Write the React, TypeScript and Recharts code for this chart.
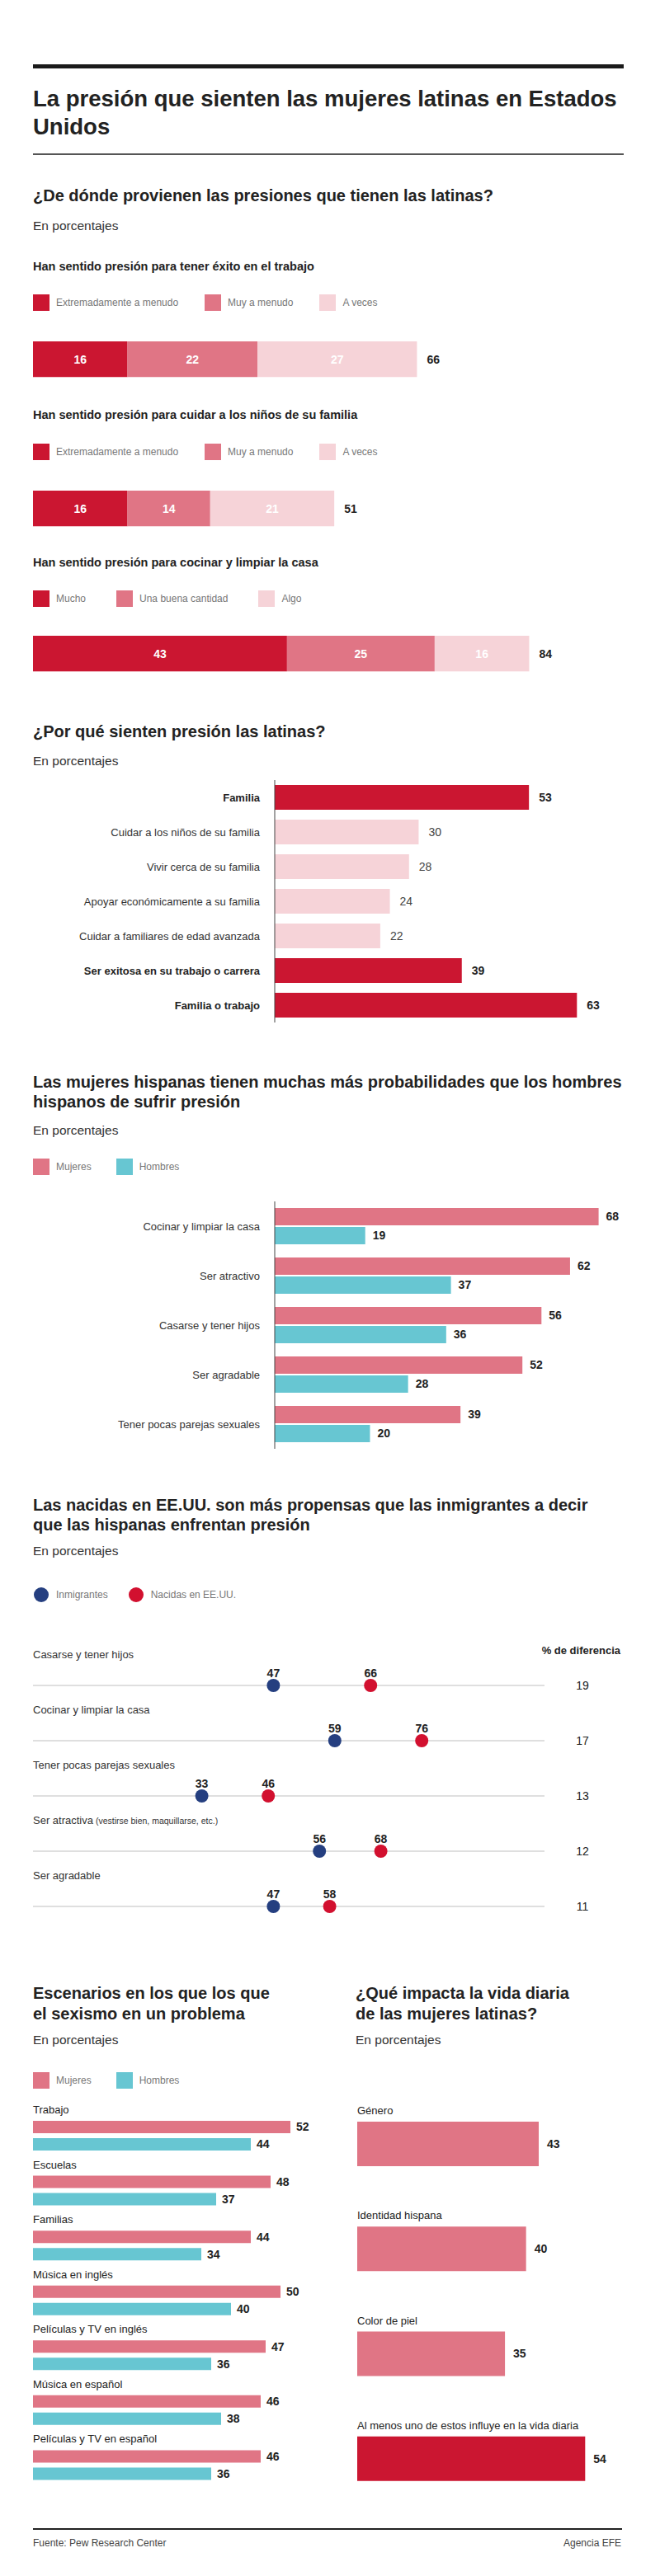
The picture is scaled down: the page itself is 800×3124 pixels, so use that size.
import React from 'react';
import {
  BarChart, Bar, XAxis, YAxis, LabelList, Cell,
  ScatterChart, Scatter, ZAxis, ReferenceLine,
} from 'recharts';

const FONT = '"Liberation Sans", Arial, Helvetica, sans-serif';
const RED = '#cb1631';
const PINK = '#e07585';
const LIGHT = '#f6d3d8';
const TEAL = '#67c6d2';
const NAVY = '#253f80';
const DOT_RED = '#d2102f';
const INK = '#222';

// ¿De dónde provienen las presiones?
const PRESSURE_TITLES = [
  'Han sentido presión para tener éxito en el trabajo',
  'Han sentido presión para cuidar a los niños de su familia',
  'Han sentido presión para cocinar y limpiar la casa',
];
const PRESSURE_LEGENDS = [
  ['Extremadamente a menudo', 'Muy a menudo', 'A veces'],
  ['Extremadamente a menudo', 'Muy a menudo', 'A veces'],
  ['Mucho', 'Una buena cantidad', 'Algo'],
];
const PRESSURE_HIGH = [16, 16, 43];
const PRESSURE_MID = [22, 14, 25];
const PRESSURE_LOW = [27, 21, 16];
const PRESSURE_TOTAL = [66, 51, 84];

// ¿Por qué sienten presión?
const REASONS = [
  'Familia',
  'Cuidar a los niños de su familia',
  'Vivir cerca de su familia',
  'Apoyar económicamente a su familia',
  'Cuidar a familiares de edad avanzada',
  'Ser exitosa en su trabajo o carrera',
  'Familia o trabajo',
];
const REASON_VALUES = [53, 30, 28, 24, 22, 39, 63];
const REASON_MAIN = [true, false, false, false, false, true, true];

// Mujeres vs hombres
const GENDER_ITEMS = [
  'Cocinar y limpiar la casa',
  'Ser atractivo',
  'Casarse y tener hijos',
  'Ser agradable',
  'Tener pocas parejas sexuales',
];
const GENDER_MUJERES = [68, 62, 56, 52, 39];
const GENDER_HOMBRES = [19, 37, 36, 28, 20];

// Nacidas en EE.UU. vs inmigrantes
const ORIGIN_ITEMS = [
  'Casarse y tener hijos',
  'Cocinar y limpiar la casa',
  'Tener pocas parejas sexuales',
  'Ser atractiva',
  'Ser agradable',
];
const ORIGIN_NOTES = ['', '', '', '(vestirse bien, maquillarse, etc.)', ''];
const INMIGRANTES = [47, 59, 33, 56, 47];
const NACIDAS = [66, 76, 46, 68, 58];
const DIFERENCIA = [19, 17, 13, 12, 11];

// Escenarios de sexismo
const SCENES = [
  'Trabajo',
  'Escuelas',
  'Familias',
  'Música en inglés',
  'Películas y TV en inglés',
  'Música en español',
  'Películas y TV en español',
];
const SCENE_MUJERES = [52, 48, 44, 50, 47, 46, 46];
const SCENE_HOMBRES = [44, 37, 34, 40, 36, 38, 36];

// ¿Qué impacta la vida diaria?
const IMPACTS = ['Género', 'Identidad hispana', 'Color de piel', 'Al menos uno de estos influye en la vida diaria'];
const IMPACT_VALUES = [43, 40, 35, 54];
const IMPACT_TOTAL = [false, false, false, true];

const reasonData = REASONS.map((name, i) => ({ name, value: REASON_VALUES[i], main: REASON_MAIN[i] }));
const genderData = GENDER_ITEMS.map((name, i) => ({ name, mujeres: GENDER_MUJERES[i], hombres: GENDER_HOMBRES[i] }));
const sceneData = SCENES.map((name, i) => ({ name, mujeres: SCENE_MUJERES[i], hombres: SCENE_HOMBRES[i] }));
const impactData = IMPACTS.map((name, i) => ({ name, value: IMPACT_VALUES[i], total: IMPACT_TOTAL[i] }));
const inmData = INMIGRANTES.map((x, i) => ({ x, y: i }));
const nacData = NACIDAS.map((x, i) => ({ x, y: i }));

const Txt = ({ x, y, size, bold = false, color = INK, right = false, lh, children }: any) => {
  const h = lh ?? Math.round(size * 1.2);
  return (
    <div
      style={{
        position: 'absolute',
        left: right ? undefined : x,
        right: right ? 800 - x : undefined,
        top: y - h / 2,
        fontSize: size,
        lineHeight: `${h}px`,
        fontWeight: bold ? 700 : 400,
        color,
        whiteSpace: 'nowrap',
      }}
    >
      {children}
    </div>
  );
};

const Rule = ({ y, h, color, x = 40, w = 716 }: any) => (
  <div style={{ position: 'absolute', left: x, top: y, width: w, height: h, background: color }} />
);

const Key = ({ x, y, items, gap, dot = false }: any) => (
  <div style={{ position: 'absolute', left: x, top: y - 10, height: 20, display: 'flex', alignItems: 'center', gap }}>
    {items.map((it: any) => (
      <div key={it.label} style={{ display: 'flex', alignItems: 'center' }}>
        <div style={{ width: dot ? 18 : 20, height: dot ? 18 : 20, borderRadius: dot ? 9 : 0, background: it.color, marginRight: dot ? 9 : 8, marginLeft: dot ? 1 : 0 }} />
        <span style={{ fontSize: 12, color: '#777' }}>{it.label}</span>
      </div>
    ))}
  </div>
);

const PressureRow = ({ i, top }: any) => {
  const data = [{
    name: PRESSURE_TITLES[i],
    alto: PRESSURE_HIGH[i],
    medio: PRESSURE_MID[i],
    bajo: PRESSURE_LOW[i],
    total: PRESSURE_TOTAL[i],
  }];
  const inner = { fill: '#fff', fontSize: 14, fontWeight: 700 };
  return (
    <div style={{ position: 'absolute', left: 0, top: top - 4 }}>
      <BarChart layout="vertical" width={800} height={56} data={data} margin={{ top: 4, right: 44, bottom: 4, left: 40 }} barSize={48}>
        <XAxis type="number" domain={[0, 100]} hide />
        <YAxis type="category" dataKey="name" hide />
        <Bar dataKey="alto" stackId="s" fill={RED} isAnimationActive={false}>
          <LabelList dataKey="alto" position="center" {...inner} />
        </Bar>
        <Bar dataKey="medio" stackId="s" fill={PINK} isAnimationActive={false}>
          <LabelList dataKey="medio" position="center" {...inner} />
        </Bar>
        <Bar dataKey="bajo" stackId="s" fill={LIGHT} isAnimationActive={false}>
          <LabelList dataKey="bajo" position="center" {...inner} />
          <LabelList dataKey="total" position="right" offset={12} fill={INK} fontSize={14} fontWeight={700} />
        </Bar>
      </BarChart>
    </div>
  );
};

const ReasonTick = ({ y, payload }: any) => {
  const idx = REASONS.indexOf(payload.value);
  return (
    <text x={315} y={y} dy="0.35em" textAnchor="end" fontSize={13} fontWeight={REASON_MAIN[idx] ? 700 : 400} fill={REASON_MAIN[idx] ? INK : '#333'}>
      {payload.value}
    </text>
  );
};

const ReasonValue = ({ x, y, width, height, value, index }: any) => {
  const main = REASON_MAIN[index ?? REASON_VALUES.indexOf(value)];
  return (
    <text x={x + width + 12} y={y + height / 2} dy="0.35em" fontSize={14} fontWeight={main ? 700 : 400} fill={main ? INK : '#444'}>
      {value}
    </text>
  );
};

const PlainTick = ({ y, payload }: any) => (
  <text x={315} y={y} dy="0.35em" textAnchor="end" fontSize={13} fill="#333">{payload.value}</text>
);

const GroupName = ({ x, y, value }: any) => (
  <text x={x} y={y - 9} fontSize={13} fill={INK}>{value}</text>
);

const OriginLabel = (i: number) => (props: any) => {
  const vb = props.viewBox || {};
  return (
    <g>
      <text x={vb.x} y={vb.y - 38} dy="0.35em" fontSize={13} fill="#333">
        {ORIGIN_ITEMS[i]}
        {ORIGIN_NOTES[i] ? <tspan fontSize={10.5}>{' ' + ORIGIN_NOTES[i]}</tspan> : null}
      </text>
      <text x={706} y={vb.y} dy="0.35em" textAnchor="middle" fontSize={14} fill={INK}>{DIFERENCIA[i]}</text>
    </g>
  );
};

const Dot = (color: string) => (p: any) => <circle cx={p.cx} cy={p.cy} r={8} fill={color} />;

export default function App() {
  return (
    <div style={{ position: 'absolute', left: 0, top: 0, width: 800, height: 3124, background: '#fff', fontFamily: FONT, color: INK, overflow: 'hidden' }}>
      <Rule y={78} h={5} color="#1a1a1a" />
      <Txt x={40} y={120} size={27.5} lh={34} bold>
        La presión que sienten las mujeres latinas en Estados<br />Unidos
      </Txt>
      <Rule y={186} h={2} color="#555" />

      {/* 1 */}
      <Txt x={40} y={237} size={20} bold>¿De dónde provienen las presiones que tienen las latinas?</Txt>
      <Txt x={40} y={273} size={15.5} color="#333">En porcentajes</Txt>
      {[323, 503, 682].map((ty, i) => (
        <React.Fragment key={i}>
          <Txt x={40} y={ty} size={14.5} bold>{PRESSURE_TITLES[i]}</Txt>
          <Key
            x={40}
            y={[367, 548, 726][i]}
            gap={i === 2 ? 37 : 32}
            items={PRESSURE_LEGENDS[i].map((label, k) => ({ label, color: [RED, PINK, LIGHT][k] }))}
          />
          <PressureRow i={i} top={[412, 593, 769][i]} />
        </React.Fragment>
      ))}

      {/* 2 */}
      <Txt x={40} y={887} size={20} bold>¿Por qué sienten presión las latinas?</Txt>
      <Txt x={40} y={922} size={15.5} color="#333">En porcentajes</Txt>
      <div style={{ position: 'absolute', left: 0, top: 946 }}>
        <BarChart layout="vertical" width={800} height={294} data={reasonData} margin={{ top: 0, right: 60, bottom: 0, left: 0 }} barSize={30}>
          <XAxis type="number" domain={[0, 70]} hide />
          <YAxis type="category" dataKey="name" width={333} axisLine={{ stroke: '#444' }} tickLine={false} tick={<ReasonTick />} interval={0} />
          <Bar dataKey="value" isAnimationActive={false}>
            {reasonData.map((d, i) => <Cell key={i} fill={d.main ? RED : LIGHT} />)}
            <LabelList dataKey="value" content={<ReasonValue />} />
          </Bar>
        </BarChart>
      </div>

      {/* 3 */}
      <Txt x={40} y={1312} size={20} lh={24} bold>
        Las mujeres hispanas tienen muchas más probabilidades que los hombres<br />hispanos de sufrir presión
      </Txt>
      <Txt x={40} y={1370} size={15.5} color="#333">En porcentajes</Txt>
      <Key x={40} y={1415} gap={30} items={[{ label: 'Mujeres', color: PINK }, { label: 'Hombres', color: TEAL }]} />
      <div style={{ position: 'absolute', left: 0, top: 1457 }}>
        <BarChart layout="vertical" width={800} height={300} data={genderData} margin={{ top: 0, right: 34, bottom: 0, left: 0 }} barSize={21} barGap={2}>
          <XAxis type="number" domain={[0, 75]} hide />
          <YAxis type="category" dataKey="name" width={333} axisLine={{ stroke: '#444' }} tickLine={false} tick={<PlainTick />} interval={0} />
          <Bar dataKey="mujeres" fill={PINK} isAnimationActive={false}>
            <LabelList dataKey="mujeres" position="right" offset={9} fill={INK} fontSize={14} fontWeight={700} />
          </Bar>
          <Bar dataKey="hombres" fill={TEAL} isAnimationActive={false}>
            <LabelList dataKey="hombres" position="right" offset={9} fill={INK} fontSize={14} fontWeight={700} />
          </Bar>
        </BarChart>
      </div>

      {/* 4 */}
      <Txt x={40} y={1825} size={20} lh={24} bold>
        Las nacidas en EE.UU. son más propensas que las inmigrantes a decir<br />que las hispanas enfrentan presión
      </Txt>
      <Txt x={40} y={1880} size={15.5} color="#333">En porcentajes</Txt>
      <Key x={40} y={1934} gap={24} dot items={[{ label: 'Inmigrantes', color: NAVY }, { label: 'Nacidas en EE.UU.', color: DOT_RED }]} />
      <Txt x={752} y={2002} size={13} bold right>% de diferencia</Txt>
      <div style={{ position: 'absolute', left: 0, top: 1990 }}>
        <ScatterChart width={800} height={342} margin={{ top: 54, right: 140, bottom: 20, left: 40 }}>
          <XAxis type="number" dataKey="x" domain={[0, 100]} hide />
          <YAxis type="number" dataKey="y" domain={[0, 4]} reversed hide />
          <ZAxis type="number" range={[201, 201]} />
          {ORIGIN_ITEMS.map((_, i) => (
            <ReferenceLine key={i} y={i} stroke="#d4d4d4" strokeWidth={1.5} label={OriginLabel(i)} />
          ))}
          <Scatter data={inmData} fill={NAVY} shape={Dot(NAVY)} isAnimationActive={false}>
            <LabelList dataKey="x" position="top" offset={5} fill={INK} fontSize={14} fontWeight={700} />
          </Scatter>
          <Scatter data={nacData} fill={DOT_RED} shape={Dot(DOT_RED)} isAnimationActive={false}>
            <LabelList dataKey="x" position="top" offset={5} fill={INK} fontSize={14} fontWeight={700} />
          </Scatter>
        </ScatterChart>
      </div>

      {/* 5 izquierda */}
      <Txt x={40} y={2417} size={20} lh={25} bold>
        Escenarios en los que los que<br />el sexismo en un problema
      </Txt>
      <Txt x={40} y={2473} size={15.5} color="#333">En porcentajes</Txt>
      <Key x={40} y={2523} gap={30} items={[{ label: 'Mujeres', color: PINK }, { label: 'Hombres', color: TEAL }]} />
      <div style={{ position: 'absolute', left: 0, top: 2540 }}>
        <BarChart layout="vertical" width={420} height={493} data={sceneData} margin={{ top: 17, right: 20, bottom: 10, left: 40 }} barSize={15} barGap={6}>
          <XAxis type="number" domain={[0, 60]} hide />
          <YAxis type="category" dataKey="name" hide />
          <Bar dataKey="mujeres" fill={PINK} isAnimationActive={false}>
            <LabelList dataKey="name" content={<GroupName />} />
            <LabelList dataKey="mujeres" position="right" offset={7} fill={INK} fontSize={14} fontWeight={700} />
          </Bar>
          <Bar dataKey="hombres" fill={TEAL} isAnimationActive={false}>
            <LabelList dataKey="hombres" position="right" offset={7} fill={INK} fontSize={14} fontWeight={700} />
          </Bar>
        </BarChart>
      </div>

      {/* 5 derecha */}
      <Txt x={431} y={2417} size={20} lh={25} bold>
        ¿Qué impacta la vida diaria<br />de las mujeres latinas?
      </Txt>
      <Txt x={431} y={2473} size={15.5} color="#333">En porcentajes</Txt>
      <div style={{ position: 'absolute', left: 400, top: 2526 }}>
        <BarChart layout="vertical" width={400} height={530} data={impactData} margin={{ top: 10, right: 60, bottom: 11, left: 33 }} barSize={54}>
          <XAxis type="number" domain={[0, 60]} hide />
          <YAxis type="category" dataKey="name" hide />
          <Bar dataKey="value" isAnimationActive={false}>
            {impactData.map((d, i) => <Cell key={i} fill={d.total ? RED : PINK} />)}
            <LabelList dataKey="name" content={<GroupName />} />
            <LabelList dataKey="value" position="right" offset={10} fill={INK} fontSize={14} fontWeight={700} />
          </Bar>
        </BarChart>
      </div>

      <Rule y={3066} h={1.5} color="#222" w={714} />
      <Txt x={40} y={3084} size={12} color="#444">Fuente: Pew Research Center</Txt>
      <Txt x={753} y={3084} size={12} color="#444" right>Agencia EFE</Txt>
    </div>
  );
}
